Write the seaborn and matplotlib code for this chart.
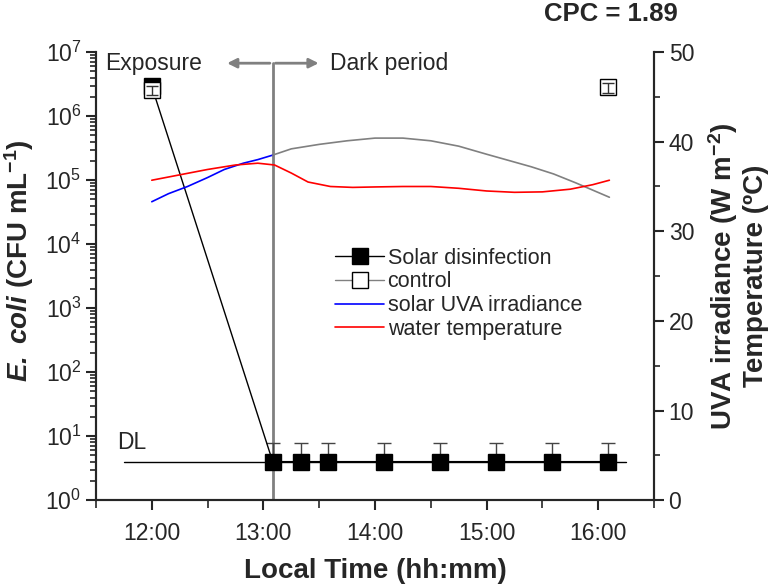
import numpy as np
import pandas as pd
import matplotlib
matplotlib.use("Agg")
import matplotlib.pyplot as plt
from matplotlib.lines import Line2D
from matplotlib.ticker import FuncFormatter, MultipleLocator, LogLocator
import seaborn as sns

# data (time in decimal hours)
solar_time = [12.0, 13 + 5/60, 13 + 20/60, 13 + 35/60, 14 + 5/60, 14 + 35/60, 15 + 5/60, 15 + 35/60, 16 + 5/60]
solar_cfu = [2.9e6, 4, 4, 4, 4, 4, 4, 4, 4]
solar_err = [0, 3.8, 3.8, 3.8, 3.8, 3.8, 3.8, 3.8, 3.8]

control_time = [12.0, 16 + 5/60]
control_cfu = [2.55e6, 2.8e6]
control_err = [0.45e6, 0.5e6]

dl_time = [11.75, 16.25]
dl_value = [4, 4]

# solar UVA irradiance (blue during exposure, grey in dark period)
uva_time = [12.0, 12.15, 12.32, 12.5, 12.65, 12.82, 12.95, 13.083]
uva_value = [33.3, 34.2, 35.0, 36.0, 36.9, 37.6, 38.0, 38.5]
uva_dark_time = [13.083, 13.25, 13.5, 13.75, 14.0, 14.25, 14.5, 14.75, 15.0, 15.2, 15.4, 15.6, 15.8, 15.95, 16.1]
uva_dark_value = [38.5, 39.2, 39.7, 40.1, 40.4, 40.4, 40.1, 39.5, 38.6, 37.9, 37.2, 36.4, 35.4, 34.6, 33.8]

# water temperature
temp_time = [12.0, 12.25, 12.5, 12.75, 12.95, 13.1, 13.25, 13.4, 13.6, 13.8, 14.0, 14.25, 14.5, 14.75, 15.0, 15.25, 15.5, 15.75, 15.95, 16.1]
temp_value = [35.7, 36.3, 36.9, 37.4, 37.6, 37.4, 36.5, 35.5, 35.0, 34.9, 34.95, 35.0, 35.0, 34.8, 34.5, 34.35, 34.4, 34.7, 35.2, 35.7]

sns.set_style("ticks")
plt.rcParams['font.family'] = ['Liberation Sans', 'DejaVu Sans']
plt.rcParams['mathtext.fontset'] = 'custom'
plt.rcParams['mathtext.rm'] = 'Liberation Sans'
plt.rcParams['mathtext.it'] = 'Liberation Sans:italic'
plt.rcParams['mathtext.bf'] = 'Liberation Sans:bold'
plt.rcParams['mathtext.bfit'] = 'Liberation Sans:italic:bold'
plt.rcParams['mathtext.default'] = 'regular'

fig = plt.figure(figsize=(7.74, 5.85), dpi=100)
ax = fig.add_axes([0.124, 0.145, 0.721, 0.766])
ax2 = ax.twinx()

# E. coli data on left axis
ax.plot(dl_time, dl_value, color='black', lw=1, zorder=2)
ax.errorbar(solar_time, solar_cfu, yerr=[np.zeros(len(solar_err)), solar_err],
            fmt='s', color='black', ms=11.5, lw=1, ecolor='#444444', elinewidth=1,
            capsize=5, capthick=1, zorder=3)
ax.plot(solar_time, solar_cfu, color='black', lw=1, zorder=3)
# control: open squares with the error bars drawn over them
ax.plot(control_time, control_cfu, 's', mfc='white', mec='black', ms=11.5, mew=1, zorder=4)
ax.errorbar(control_time, control_cfu, yerr=control_err, fmt='none', ecolor='#333333',
            elinewidth=1, capsize=4, capthick=1, zorder=5)

ax.set_yscale('log')
ax.set_ylim(1, 1e7)
ax.set_xlim(11.5, 16.5)
ax.yaxis.set_major_locator(LogLocator(base=10, numticks=10))
ax.yaxis.set_minor_locator(LogLocator(base=10, subs=np.arange(2, 10), numticks=20))
ax.xaxis.set_major_locator(MultipleLocator(1))
ax.xaxis.set_minor_locator(MultipleLocator(0.5))
ax.xaxis.set_major_formatter(FuncFormatter(lambda v, p: f"{int(v):02d}:{int(round((v % 1) * 60)):02d}"))

# dark period marker
ax.axvline(13 + 5/60, color='#808080', lw=2, ymax=0.975, zorder=1)
ax.annotate('', xy=(12.65, 6.7e6), xytext=(13 + 5/60, 6.7e6),
            arrowprops=dict(arrowstyle='-|>', color='#808080', lw=2, mutation_scale=14))
ax.annotate('', xy=(13.52, 6.7e6), xytext=(13 + 5/60, 6.7e6),
            arrowprops=dict(arrowstyle='-|>', color='#808080', lw=2, mutation_scale=14))
ax.text(11.58, 6.7e6, 'Exposure', fontsize=16.5, va='center', ha='left')
ax.text(13.6, 6.7e6, 'Dark period', fontsize=16.5, va='center', ha='left')
ax.text(11.69, 5.3, 'DL', fontsize=16.5, va='bottom', ha='left')

# irradiance and temperature on right axis
uva_df = pd.DataFrame({'time': uva_time, 'value': uva_value})
uva_dark_df = pd.DataFrame({'time': uva_dark_time, 'value': uva_dark_value})
temp_df = pd.DataFrame({'time': temp_time, 'value': temp_value})
sns.lineplot(data=uva_df, x='time', y='value', ax=ax2, color='blue', lw=1.2)
sns.lineplot(data=uva_dark_df, x='time', y='value', ax=ax2, color='#808080', lw=1.2)
sns.lineplot(data=temp_df, x='time', y='value', ax=ax2, color='red', lw=1.2)
ax2.set_ylim(0, 50)
ax2.yaxis.set_major_locator(MultipleLocator(10))
ax2.yaxis.set_minor_locator(MultipleLocator(5))

for a in (ax, ax2):
    a.spines['top'].set_visible(False)
    for s in a.spines.values():
        s.set_linewidth(1.5)
    a.tick_params(which='major', direction='out', length=7, width=1.5, labelsize=16.5)
    a.tick_params(which='minor', direction='out', length=4, width=1.2)
ax.tick_params(axis='x', which='minor', length=6)
ax.tick_params(axis='x', pad=9)

ax.set_xlabel('Local Time (hh:mm)', fontsize=20, fontweight='bold', labelpad=9)
ax.set_ylabel(r'$\mathbfit{E.\ coli}$ (CFU mL$^{-1}$)', fontsize=20, fontweight='bold')
ax.yaxis.set_label_coords(-0.108, 0.535)
ax2.set_ylabel('UVA irradiance (W m$^{-2}$)\nTemperature (ºC)', fontsize=20, fontweight='bold',
               labelpad=9, linespacing=1.15)

fig.text(0.875, 0.976, 'CPC = 1.89', fontsize=18.5, fontweight='bold', ha='right', va='center')

handles = [
    Line2D([], [], color='black', marker='s', ms=11, lw=1, mfc='black'),
    Line2D([], [], color='#808080', marker='s', ms=11, lw=1, mfc='white', mec='black'),
    Line2D([], [], color='blue', lw=1.2),
    Line2D([], [], color='red', lw=1.2),
]
labels = ['Solar disinfection', 'control', 'solar UVA irradiance', 'water temperature']
ax2.legend(handles, labels, loc='upper left', bbox_to_anchor=(0.428, 0.563), frameon=False,
           fontsize=15.5, handlelength=2.3, handletextpad=0.15, labelspacing=0.12,
           borderaxespad=0, borderpad=0)

fig.savefig('out.png', dpi=100)
